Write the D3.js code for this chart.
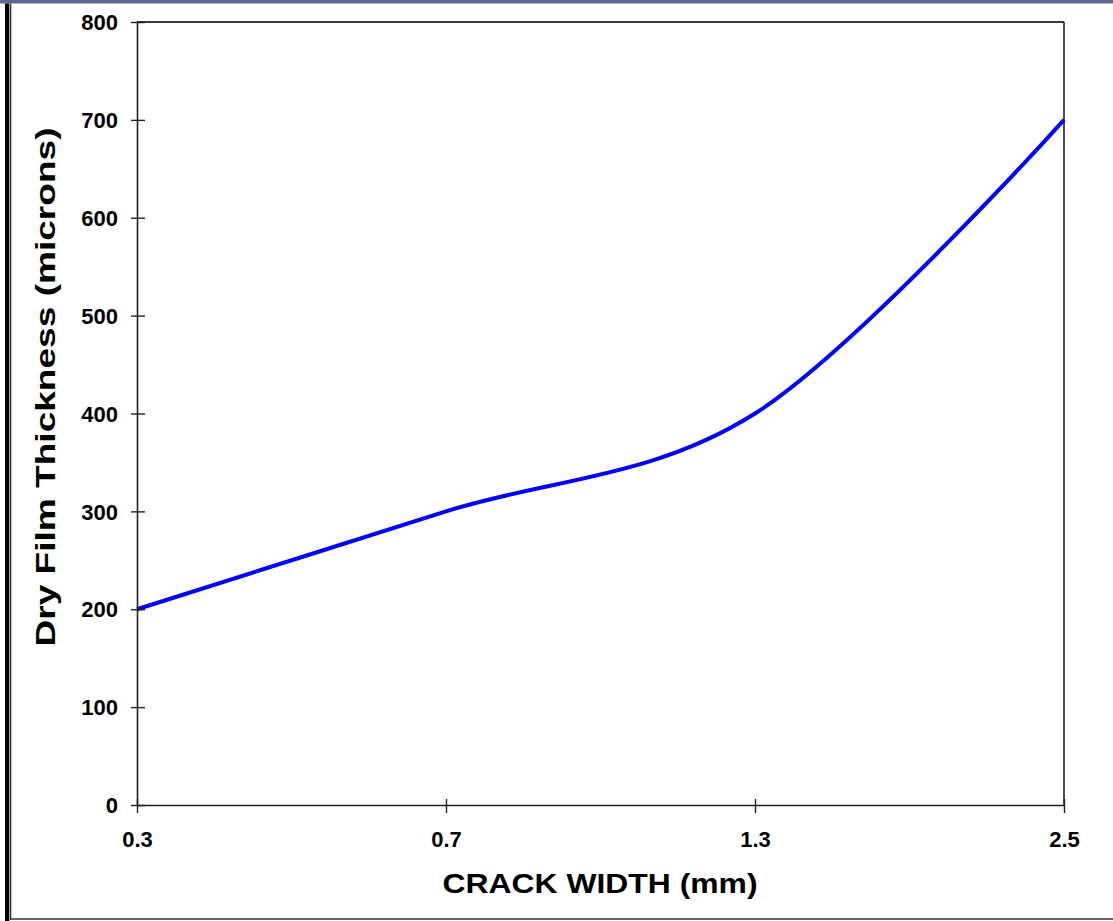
<!DOCTYPE html>
<html>
<head>
<meta charset="utf-8">
<script src="https://cdn.jsdelivr.net/npm/d3@7"></script>
<style>
  html, body { margin: 0; padding: 0; background: #fff; }
  svg { display: block; }
</style>
</head>
<body>
<svg id="chart" width="1113" height="921"></svg>
<script>
const categories = ["0.3", "0.7", "1.3", "2.5"];
const thickness = [200, 300, 400, 700];
const yTicks = [0, 100, 200, 300, 400, 500, 600, 700, 800];
const xTitle = "CRACK WIDTH (mm)";
const yTitle = "Dry Film Thickness (microns)";

const svg = d3.select("#chart");
const W = 1113, H = 921;
const m = { left: 137, top: 22, right: 1064, bottom: 805 };
const font = "'Liberation Sans', Arial, sans-serif";

// frame
svg.append("rect").attr("x", 0).attr("y", 0).attr("width", W).attr("height", H).attr("fill", "#fff");
svg.append("rect").attr("x", 0).attr("y", 0).attr("width", W).attr("height", 3.5).attr("fill", "#5b6895");
svg.append("rect").attr("x", 5).attr("y", 3.5).attr("width", 4.3).attr("height", H - 3.5).attr("fill", "#000");
svg.append("line").attr("x1", 10.6).attr("x2", 10.6).attr("y1", 3.5).attr("y2", 919.5)
  .attr("stroke", "#333").attr("stroke-width", 1.4);
svg.append("line").attr("x1", 10).attr("x2", W).attr("y1", 919).attr("y2", 919)
  .attr("stroke", "#333").attr("stroke-width", 1.6);

const x = d3.scalePoint().domain(categories).range([m.left, m.right]).padding(0);
const y = d3.scaleLinear().domain([0, 800]).range([m.bottom, m.top]);

// plot area border (top & right)
svg.append("line").attr("x1", m.left).attr("x2", m.right).attr("y1", m.top).attr("y2", m.top)
  .attr("stroke", "#3a3a3a").attr("stroke-width", 1.8);
svg.append("line").attr("x1", m.right).attr("x2", m.right).attr("y1", m.top).attr("y2", m.bottom)
  .attr("stroke", "#3a3a3a").attr("stroke-width", 1.8);

// line
const line = d3.line()
  .x((d, i) => x(categories[i]))
  .y(d => y(d))
  .curve(d3.curveCardinal.tension(0));
svg.append("path").datum(thickness).attr("d", line)
  .attr("fill", "none").attr("stroke", "#0000ff").attr("stroke-width", 4)
  .attr("stroke-linejoin", "round");

// Y axis
const yAxis = d3.axisLeft(y).tickValues(yTicks).tickSize(0).tickPadding(19).tickFormat(d3.format("d"));
const gy = svg.append("g").attr("transform", `translate(${m.left},0)`).call(yAxis);
gy.select(".domain").attr("stroke", "#222").attr("stroke-width", 1.6);
gy.selectAll(".tick line").attr("x1", -6).attr("x2", 8).attr("stroke", "#222").attr("stroke-width", 1.4);
gy.selectAll(".tick text").attr("font-family", font).attr("font-weight", "bold")
  .attr("font-size", 22).attr("fill", "#000").attr("dy", "0.35em");

// X axis
const xAxis = d3.axisBottom(x).tickSize(0).tickPadding(26);
const gx = svg.append("g").attr("transform", `translate(0,${m.bottom})`).call(xAxis);
gx.select(".domain").attr("stroke", "#222").attr("stroke-width", 1.6);
gx.selectAll(".tick line").attr("y1", -6).attr("y2", 8).attr("stroke", "#222").attr("stroke-width", 1.4);
gx.selectAll(".tick text").attr("font-family", font).attr("font-weight", "bold")
  .attr("font-size", 22).attr("fill", "#000").attr("dy", "0.71em");
gx.selectAll(".tick text").attr("y", 26);

// titles
svg.append("text").attr("x", 600).attr("y", 893).attr("text-anchor", "middle")
  .attr("font-family", font).attr("font-weight", "bold").attr("font-size", 28)
  .attr("textLength", 315).attr("lengthAdjust", "spacingAndGlyphs")
  .text(xTitle);
svg.append("text").attr("transform", "translate(55,387) rotate(-90)").attr("text-anchor", "middle")
  .attr("font-family", font).attr("font-weight", "bold").attr("font-size", 28)
  .attr("textLength", 519).attr("lengthAdjust", "spacingAndGlyphs")
  .text(yTitle);
</script>
</body>
</html>
